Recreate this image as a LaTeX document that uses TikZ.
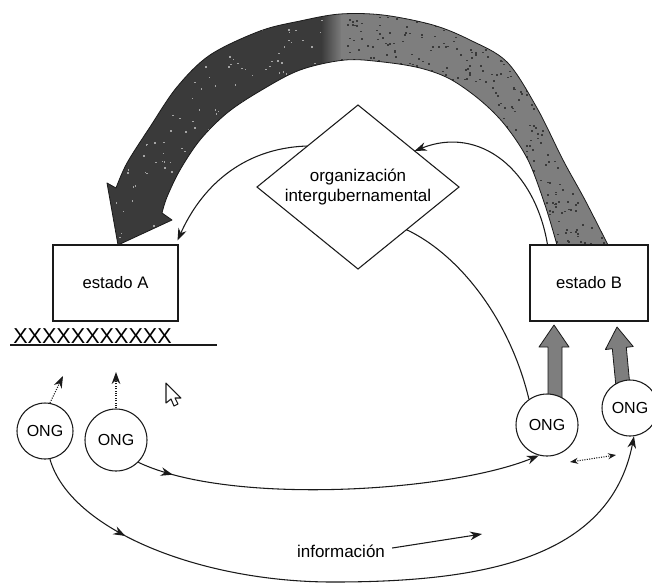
\documentclass[tikz,border=0pt]{standalone}
\usepackage{fontspec}
\setmainfont{Liberation Sans}
\usetikzlibrary{arrows.meta,calc,decorations.markings}
\definecolor{arrdark}{HTML}{3A3A3A}
\definecolor{arrgray}{HTML}{7E7E7E}
\definecolor{ink}{HTML}{1A1A1A}
\newcommand\bigarrowpath{plot[smooth,tension=0.55] coordinates {(608,245) (585,200) (563,160) (537,108) (507,62) (470,40) (433,25) (383,15) (340,14) (300,21) (260,31) (210,55) (177,87) (150,127) (127,163) (116,188)}
 -- (107,183) -- (118,245) -- (172,220) -- (162,213)
 -- plot[smooth,tension=0.55] coordinates {(162,213) (167,197) (180,170) (200,140) (227,113) (260,91) (300,70) (345,60) (383,62) (420,68) (450,79) (480,100) (505,125) (528,160) (545,205) (557,245)} -- cycle}
\begin{document}
\begin{tikzpicture}[x=0.75pt,y=-0.75pt,
  conn/.style={line width=0.8pt,draw=ink},
  tip/.style={-{Stealth[length=9pt,width=6.5pt]}},
  stbox/.style={draw=ink,line width=0.8pt,fill=white,minimum height=57pt,inner sep=0pt,font=\fontsize{12.5}{14}\selectfont},
  ong/.style={circle,draw=ink,line width=0.8pt,fill=white,inner sep=0pt,font=\fontsize{12}{14}\selectfont},
  fat/.style={fill=arrgray,draw=ink,line width=0.6pt,line join=round},
  midtip/.style={postaction={decorate},decoration={markings,mark=at position #1 with {\arrow{Stealth[length=9pt,width=6.5pt]}}}}
]
\useasboundingbox (0,0) rectangle (652,587);
\fill[white] (0,0) rectangle (652,587);

% big curved arrow from estado B to estado A
\begin{scope}
  \clip \bigarrowpath;
  \fill[arrdark] (0,0) rectangle (322,260);
  \shade[left color=arrdark,right color=arrgray] (321,0) rectangle (342,260);
  \fill[arrgray] (341,0) rectangle (652,260);
  \pgfmathsetseed{12}
  \foreach \i in {1,...,900}{
    \pgfmathsetmacro\px{338+rnd*275}
    \pgfmathsetmacro\py{8+rnd*240}
    \fill[arrdark] (\px,\py) rectangle ++(2,1.6);
  }
  \foreach \i in {1,...,260}{
    \pgfmathsetmacro\px{100+rnd*230}
    \pgfmathsetmacro\py{8+rnd*240}
    \fill[arrgray!70!white] (\px,\py) rectangle ++(1.5,1.5);
  }
\end{scope}
\draw[ink,line width=0.6pt,line join=round] \bigarrowpath;

% boxes
\node[stbox,minimum width=93.75pt] (A) at (115.5,283) {estado A};
\node[stbox,minimum width=88.5pt] (B) at (589,283) {estado B};

% diamond
\coordinate (Dt) at (358,105);
\coordinate (Dr) at (459,187);
\coordinate (Db) at (358,269);
\coordinate (Dl) at (257,187);
\draw[conn,fill=white] (Dt) -- (Dr) -- (Db) -- (Dl) -- cycle;
\node[align=center,inner sep=0pt,font=\fontsize{12.75}{14.5}\selectfont] (D) at (358,187) {organización\\intergubernamental};

% XXX line
\node[anchor=base west,inner sep=0pt,font=\fontsize{16.2}{18}\selectfont] (X) at (13,343) {XXXXXXXXXXX};
\coordinate (ul1) at (10,345);
\coordinate (ul2) at (217,345);
\draw[conn] (ul1) -- (ul2);

% thick gray arrows into estado B
\draw[fat] (548,400) -- (548,347) -- (539,347) -- (554,325) -- (569,347) -- (562,347) -- (562,400) -- cycle;
\draw[fat] (616.5,392) -- (612.3,348.7) -- (605.4,349.5) -- (617,327) -- (633.2,346.5) -- (626.3,347.3) -- (630.5,392) -- cycle;

% ONG circles
\node[ong,minimum size=42pt] (O1) at (45,431) {ONG};
\node[ong,minimum size=46.5pt] (O2) at (116,440) {ONG};
\node[ong,minimum size=46.5pt] (O3) at (547,425) {ONG};
\node[ong,minimum size=42pt] (O4) at (630,408) {ONG};

% thin connectors
\draw[conn,tip] ($(Dt)!0.5!(Dl)$) .. controls (240,148) and (200,190) .. ($(A.north east)+(-1,-4)$);
\draw[conn,tip] ($(B.north west)+(18,0)$) .. controls (535,170) and (480,125) .. ($(Dt)!0.56!(Dr)$);
\draw[conn] ($(Dr)!0.52!(Db)$) .. controls (460,255) and (510,320) .. (O3.125);

\draw[conn,tip,midtip=0.09] (O2.-45) .. controls (230,506) and (450,492) .. (O3.-105);
\draw[conn,tip,midtip=0.16] (O1.-80) .. controls (70,530) and (200,582) .. (333,582) .. controls (480,582) and (610,560) .. (O4.-82);

% dotted arrows
\coordinate (d1) at (63,376);
\coordinate (d2) at (116,372);
\draw[conn,densely dotted,tip] (O1.80) -- (d1);
\draw[conn,densely dotted,tip] (O2.north) -- (d2);
\coordinate (e1) at (570,462);
\coordinate (e2) at (616,455);
\draw[conn,densely dotted,{Stealth[length=6pt,width=4.5pt]}-{Stealth[length=6pt,width=4.5pt]}] (e1) -- (e2);

% informacion
\node[inner sep=0pt,font=\fontsize{12.75}{14}\selectfont] (info) at (341,551) {información};
\coordinate (infoEnd) at (482,534);
\draw[conn,tip] ($(info.east)+(7,-3)$) -- (infoEnd);

% mouse cursor
\draw[ink,line width=0.8pt,fill=white,line join=round] (166,383) -- (166,403) -- (171,399) -- (174,406) -- (178,404) -- (175,398) -- (181,398) -- cycle;
\end{tikzpicture}
\end{document}
